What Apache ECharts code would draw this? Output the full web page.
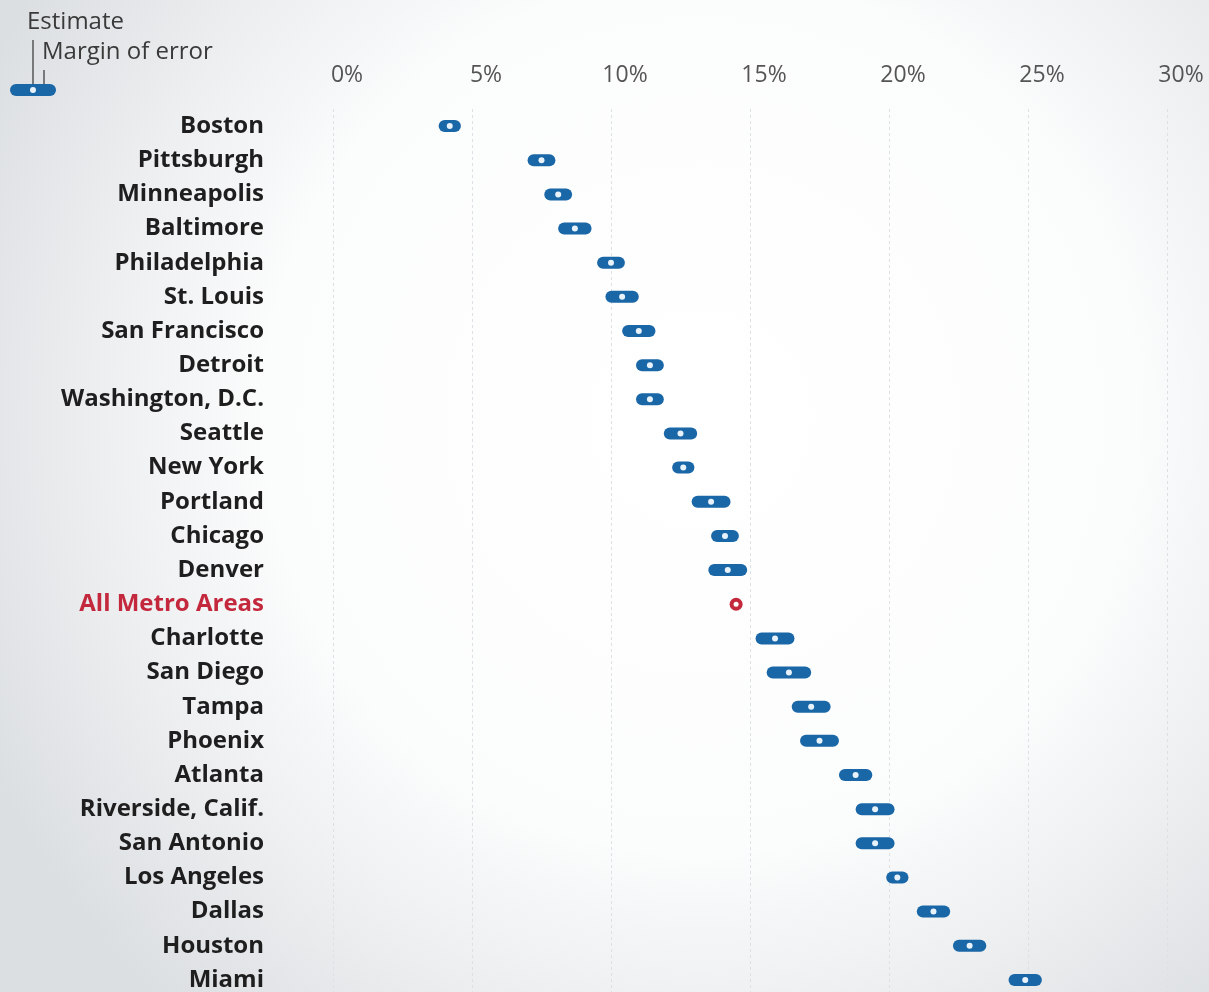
<!DOCTYPE html>
<html>
<head>
<meta charset="utf-8">
<script src="https://cdn.jsdelivr.net/npm/echarts@6/dist/echarts.min.js"></script>
<style>
html,body{margin:0;padding:0;width:1209px;height:992px;overflow:hidden;}
#c{width:1209px;height:992px;}
</style>
</head>
<body>
<div id="c"></div>
<script>
const cities = ["Boston","Pittsburgh","Minneapolis","Baltimore","Philadelphia","St. Louis","San Francisco","Detroit","Washington, D.C.","Seattle","New York","Portland","Chicago","Denver","All Metro Areas","Charlotte","San Diego","Tampa","Phoenix","Atlanta","Riverside, Calif.","San Antonio","Los Angeles","Dallas","Houston","Miami"];
const estimates = [4.2,7.5,8.1,8.7,10.0,10.4,11.0,11.4,11.4,12.5,12.6,13.6,14.1,14.2,14.5,15.9,16.4,17.2,17.5,18.8,19.5,19.5,20.3,21.6,22.9,24.9];
const margins = [0.4,0.5,0.5,0.6,0.5,0.6,0.6,0.5,0.5,0.6,0.4,0.7,0.5,0.7,0.1,0.7,0.8,0.7,0.7,0.6,0.7,0.7,0.4,0.6,0.6,0.6];
const tickLabels = ["0%","5%","10%","15%","20%","25%","30%"];
const highlight = "All Metro Areas";

const BLUE = "#1a67a8";
const RED = "#c3283d";

const chart = echarts.init(document.getElementById('c'));
const data = cities.map((c, i) => [i, estimates[i], margins[i]]);

chart.setOption({
  backgroundColor: {
    type: 'radial', x: 0.58, y: 0.42, r: 0.8,
    colorStops: [{offset: 0, color: '#ffffff'}, {offset: 0.55, color: '#fbfcfc'}, {offset: 1, color: '#dcdfe2'}]
  },
  animation: false,
  grid: {left: 333, right: 42, top: 109, height: 888, containLabel: false, outerBoundsMode: 'none'},
  xAxis: {
    type: 'value', position: 'top', min: 0, max: 30, interval: 5,
    axisLine: {show: false}, axisTick: {show: false},
    axisLabel: {
      margin: 22, fontFamily: 'Open Sans', fontSize: 23, color: '#555',
      padding: [0, 0, 0, 28],
      formatter: v => tickLabels[Math.round(v / 5)]
    },
    splitLine: {show: true, lineStyle: {color: '#dde0e4', type: [3, 3], width: 1}}
  },
  yAxis: {
    type: 'category', inverse: true, data: cities,
    axisLine: {show: false}, axisTick: {show: false}, splitLine: {show: false},
    axisLabel: {
      margin: 69, fontFamily: 'Open Sans', fontWeight: 'bold', fontSize: 24,
      padding: [3, 0, 0, 0],
      color: (v) => v === highlight ? RED : '#1e1e1e'
    }
  },
  series: [{
    type: 'custom',
    data: data,
    encode: {x: [1], y: 0},
    renderItem: function (params, api) {
      const i = api.value(0), est = api.value(1), moe = api.value(2);
      const c = api.coord([est, i]);
      if (cities[i] === highlight) {
        return {type: 'group', children: [
          {type: 'circle', shape: {cx: c[0], cy: c[1], r: 6.5}, style: {fill: RED}},
          {type: 'circle', shape: {cx: c[0], cy: c[1], r: 2.5}, style: {fill: '#ffffff'}}
        ]};
      }
      const lo = api.coord([est - moe, i]);
      const hi = api.coord([est + moe, i]);
      const h = 12;
      return {type: 'group', children: [
        {type: 'rect', shape: {x: lo[0], y: c[1] - h / 2, width: hi[0] - lo[0], height: h, r: h / 2}, style: {fill: BLUE}},
        {type: 'circle', shape: {cx: c[0], cy: c[1], r: 3}, style: {fill: '#e8f2fb'}}
      ]};
    }
  }],
  graphic: [
    {type: 'text', left: 27, top: 10, style: {text: 'Estimate', font: '24px "Open Sans"', fill: '#3a3a3a'}},
    {type: 'text', left: 42, top: 40, style: {text: 'Margin of error', font: '24px "Open Sans"', fill: '#3a3a3a'}},
    {type: 'line', shape: {x1: 33, y1: 40, x2: 33, y2: 88}, style: {stroke: '#333', lineWidth: 1.2}},
    {type: 'line', shape: {x1: 44, y1: 70, x2: 44, y2: 86}, style: {stroke: '#333', lineWidth: 1.2}},
    {type: 'rect', shape: {x: 10, y: 84, width: 46, height: 12, r: 6}, style: {fill: BLUE}},
    {type: 'circle', shape: {cx: 33, cy: 90, r: 3}, style: {fill: '#e8f2fb'}}
  ]
});
</script>
</body>
</html>
